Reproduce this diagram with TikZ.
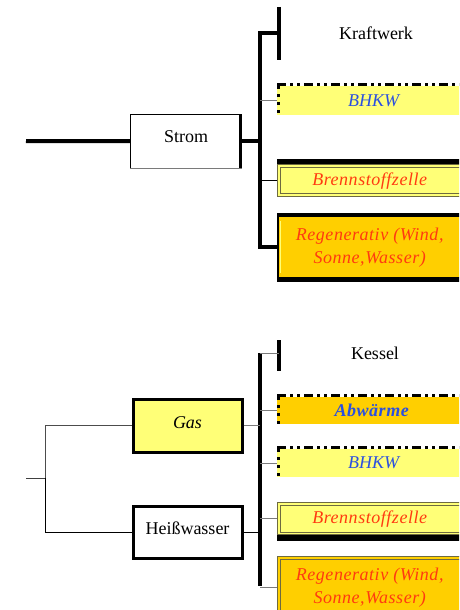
\documentclass[tikz,border=0pt]{standalone}
\usepackage{fontspec}
\setmainfont{Liberation Serif}
\definecolor{paleY}{HTML}{FFFF77}
\definecolor{goldY}{HTML}{FFCF00}
\definecolor{txtblue}{HTML}{2A4FE0}
\definecolor{txtred}{HTML}{FF3A10}
\definecolor{lgray}{HTML}{7A7A7A}
\definecolor{olivegray}{HTML}{6E6A40}
\begin{document}
\begin{tikzpicture}[x=1pt,y=-1pt,
  box/.style={rectangle, inner sep=0pt, anchor=north west, font=\fontsize{18}{23}\selectfont, align=center},
  heavy/.style={line width=4pt},
  thinline/.style={line width=0.8pt, black},
  grayline/.style={line width=1pt, lgray},
  dashdot/.style={line width=3pt, dash pattern=on 9pt off 4pt on 3pt off 4pt on 3pt off 4pt},
  dotleft/.style={line width=3pt, dash pattern=on 3pt off 5pt},
  redtxt/.style={text=txtred, font=\fontsize{18}{23}\selectfont\itshape\addfontfeature{LetterSpace=3}},
  bluetxt/.style={text=txtblue, font=\fontsize{18}{23}\selectfont\itshape}
]
\useasboundingbox (0,0) rectangle (459,610);
\clip (0,0) rectangle (459,610);

% ================= TOP =================
\node[box, minimum width=112, minimum height=54] (strom) at (130,114) {\raisebox{5pt}[\height][\depth]{Strom}};
\draw[thinline] (strom.south west) -- (strom.north west) -- (strom.north east);
\draw[grayline] (strom.south west) -- (strom.south east);
\draw[line width=3pt] ([xshift=-1.5pt]strom.north east) -- ([xshift=-1.5pt]strom.south east);

\coordinate (in1) at (26,141);
\coordinate (trunk1) at (260,33);
\draw[heavy] (in1) -- (strom.west);
\draw[heavy] (strom.east) -- (strom.east -| trunk1);

\node[font=\fontsize{18}{23}\selectfont] (kw) at (376,33) {Kraftwerk};
\coordinate (kwtop) at (279,7);
\coordinate (kwbot) at (279,60);
\draw[heavy] (kwtop) -- (kwbot);

\node[box, fill=paleY, minimum width=193, minimum height=29, bluetxt] (bhkw1) at (277,86) {BHKW};
\draw[dashdot] ([yshift=1.5pt]bhkw1.north west) -- ([yshift=1.5pt]bhkw1.north east);
\draw[dotleft] ([xshift=1.5pt]bhkw1.north west) -- ([xshift=1.5pt]bhkw1.south west);

\node[box, fill=paleY, minimum width=193, minimum height=33, redtxt] (bf1) at (277,164) {Brennstoffzelle\hspace*{8pt}};
\draw[olivegray, line width=0.9pt] ([shift={(0.5,0.5)}]bf1.north west) rectangle ([shift={(3,-0.5)}]bf1.south east);
\draw[olivegray, line width=0.9pt] ([shift={(3.5,3)}]bf1.north west) rectangle ([shift={(3,-3.5)}]bf1.south east);
\draw[line width=5pt] ([yshift=2.5pt]bf1.north west) -- ([yshift=2.5pt]bf1.north east);

\node[box, fill=goldY, minimum width=193, minimum height=60, redtxt] (reg1) at (277,217) {Regenerativ (Wind,\hspace*{8pt}\\Sonne,Wasser)\hspace*{8pt}};
\draw[line width=2pt] ([xshift=1pt]reg1.north west) -- ([xshift=1pt]reg1.south west);
\draw[paleY, line width=1pt] ([shift={(3,4)}]reg1.north west) -- ([shift={(3,-4)}]reg1.south west);
\draw[line width=4.5pt] ([yshift=2.25pt]reg1.north west) -- ([yshift=2.25pt]reg1.north east);
\draw[line width=5pt] ([yshift=-2.5pt]reg1.south west) -- ([yshift=-2.5pt]reg1.south east);

% trunk
\draw[heavy, line join=miter] (kwtop |- trunk1) -- (trunk1) -- (trunk1 |- reg1.west) -- (reg1.west);
\draw[grayline] (bhkw1.west -| trunk1) -- (bhkw1.west);
\draw[thinline] (bf1.west -| trunk1) -- (bf1.west);

% ================= BOTTOM =================
\node[box, fill=paleY, draw, line width=3pt, minimum width=109, minimum height=53, font=\fontsize{18}{23}\selectfont\itshape] (gas) at (131.5,397.5) {\raisebox{3pt}[\height][\depth]{Gas}};
\node[box, fill=white, draw, line width=3pt, minimum width=109, minimum height=52, font=\fontsize{18}{23}\selectfont] (hw) at (131.5,504.5) {\raisebox{4pt}[\height][\depth]{Heißwasser}};

\coordinate (in2) at (26,478);
\coordinate (br2) at (45.5,478);
\draw[grayline, line width=0.9pt, black!75] (in2) -- (br2);
\draw[grayline, black!70] (br2) |- (gas.west);
\draw[thinline] (br2) |- (hw.west);

\node[font=\fontsize{18}{23}\selectfont] (kessel) at (375,353) {Kessel};
\coordinate (ktop) at (279,340);
\coordinate (kbot) at (279,371);
\draw[heavy] (ktop) -- (kbot);

\coordinate (trunk2) at (260,353);
\coordinate (trunk2b) at (260,586);
\draw[heavy] (trunk2) -- (trunk2b);
\draw[grayline] (trunk2) -- (ktop |- trunk2);

\draw[grayline] (gas.east) -- (gas.east -| trunk2);
\draw[thinline] (hw.east) -- (hw.east -| trunk2);

\node[box, fill=goldY, minimum width=193, minimum height=27, text=txtblue, font=\fontsize{18}{23}\selectfont\bfseries\itshape\addfontfeature{LetterSpace=3}] (abw) at (277,397) {Abwärme\hspace*{4pt}};
\draw[dashdot] ([yshift=1.5pt]abw.north west) -- ([yshift=1.5pt]abw.north east);
\draw[dotleft] ([xshift=1.5pt]abw.north west) -- ([xshift=1.5pt]abw.south west);

\node[box, fill=paleY, minimum width=193, minimum height=28, bluetxt] (bhkw2) at (277,449) {BHKW};
\draw[dashdot] ([yshift=1.5pt]bhkw2.north west) -- ([yshift=1.5pt]bhkw2.north east);
\draw[dotleft] ([xshift=1.5pt]bhkw2.north west) -- ([xshift=1.5pt]bhkw2.south west);

\node[box, fill=paleY, minimum width=193, minimum height=33, redtxt] (bf2) at (277,502) {Brennstoffzelle\hspace*{8pt}};
\draw[olivegray, line width=0.9pt] ([shift={(0.5,0.5)}]bf2.north west) rectangle ([shift={(3,-0.5)}]bf2.south east);
\draw[olivegray, line width=0.9pt] ([shift={(3.5,3.5)}]bf2.north west) rectangle ([shift={(3,-3)}]bf2.south east);
\draw[line width=6pt] ([yshift=-3pt]bf2.south west) -- ([yshift=-3pt]bf2.south east);

\node[box, fill=goldY, minimum width=193, minimum height=62, redtxt] (reg2) at (277,556) {Regenerativ (Wind,\hspace*{8pt}\\Sonne,Wasser)\hspace*{8pt}};
\draw[olivegray, line width=0.9pt] ([shift={(0.5,0.5)}]reg2.north west) rectangle ([shift={(3,-0.5)}]reg2.south east);
\draw[olivegray, line width=0.9pt] ([shift={(3.5,3.5)}]reg2.north west) rectangle ([shift={(3,-3.5)}]reg2.south east);

\draw[grayline] (abw.west -| trunk2) -- (abw.west);
\draw[grayline] (bhkw2.west -| trunk2) -- (bhkw2.west);
\draw[grayline] (bf2.west -| trunk2) -- (bf2.west);
\draw[grayline] (reg2.west -| trunk2) -- (reg2.west);
\end{tikzpicture}
\end{document}
